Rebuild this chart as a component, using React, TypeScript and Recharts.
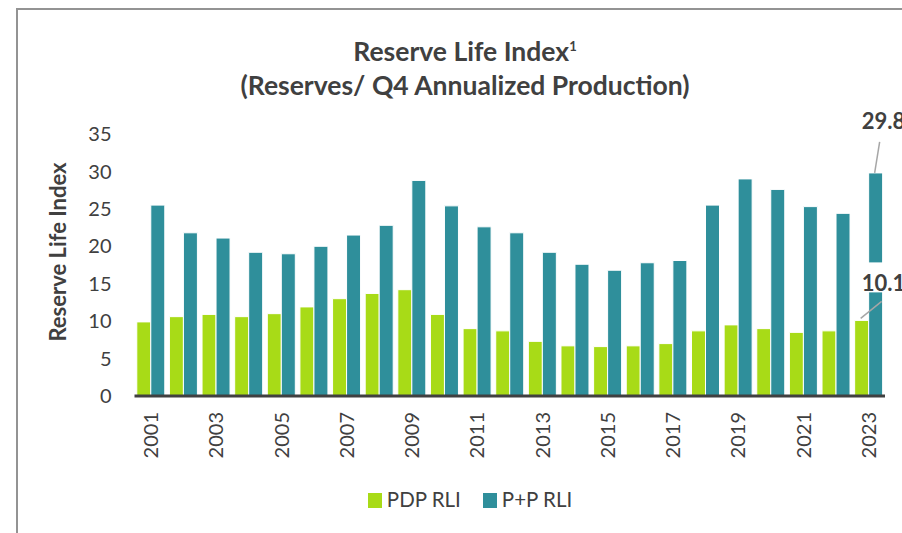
import React from 'react';
import { BarChart, Bar, XAxis, YAxis, LabelList } from 'recharts';

/* Reserve Life Index chart - PDP vs P+P, 2001-2023 */

const YEARS = [
  '2001', '2002', '2003', '2004', '2005', '2006', '2007', '2008', '2009', '2010', '2011', '2012',
  '2013', '2014', '2015', '2016', '2017', '2018', '2019', '2020', '2021', '2022', '2023',
];
const PDP_RLI = [
  9.9, 10.6, 10.9, 10.6, 11.0, 11.9, 13.0, 13.7, 14.2, 10.9, 9.0, 8.7,
  7.3, 6.7, 6.6, 6.7, 7.0, 8.7, 9.5, 9.0, 8.5, 8.7, 10.1,
];
const PP_RLI = [
  25.5, 21.8, 21.1, 19.2, 19.0, 20.0, 21.5, 22.8, 28.8, 25.4, 22.6, 21.8,
  19.2, 17.6, 16.8, 17.8, 18.1, 25.5, 29.0, 27.6, 25.3, 24.4, 29.8,
];
const Y_TICKS = [0, 5, 10, 15, 20, 25, 30, 35];
const SERIES_NAMES = ['PDP RLI', 'P+P RLI'];

const PDP_COLOR = '#a8db17';
const PP_COLOR = '#2f8f9b';
const TEXT = '#404040';
const LAST = YEARS.length - 1;

const data = YEARS.map((year, i) => ({ year, pdp: PDP_RLI[i], pp: PP_RLI[i] }));

const YearTick = ({ x, y, payload }: any) => (
  <text
    x={x}
    y={y}
    transform={`rotate(-90 ${x} ${y})`}
    textAnchor="end"
    dy="0.36em"
    fill={TEXT}
    fontSize={20}
  >
    {payload.value}
  </text>
);

// callouts for the latest year, drawn after the P+P bars so the white box sits on top
const LatestLabels = (props: any) => {
  const vb = props.viewBox || props;
  const index = props.index;
  if (index !== LAST) return null;
  const x = Number(vb.x);
  const y = Number(vb.y);
  const h = Number(vb.height);
  const bottom = y + h;
  const pdpY = bottom - (h * PDP_RLI[LAST]) / PP_RLI[LAST];
  return (
    <g>
      <line x1={x + 11} y1={y - 31} x2={x + 6} y2={y} stroke="#a6a6a6" strokeWidth={1.5} />
      <text x={x - 7} y={y - 44} fill={TEXT} fontSize={22} fontWeight={700}>
        {PP_RLI[LAST].toFixed(1)}
      </text>
      <rect x={x - 8} y={pdpY - 58} width={60} height={30} fill="#ffffff" />
      <text x={x - 7} y={pdpY - 29} fill={TEXT} fontSize={22} fontWeight={700}>
        {PDP_RLI[LAST].toFixed(1)}
      </text>
      <line x1={x + 13} y1={pdpY - 19} x2={x - 8} y2={pdpY - 2} stroke="#a6a6a6" strokeWidth={1.5} />
    </g>
  );
};

const App: React.FC = () => {
  return (
    <div style={styles.page}>
      <div style={styles.frame} />

      <div style={styles.title}>
        <div>
          Reserve Life Index<span style={styles.sup}>1</span>
        </div>
        <div>(Reserves/ Q4 Annualized Production)</div>
      </div>

      <div style={styles.yLabel}>Reserve Life Index</div>

      <div style={styles.chart}>
        <BarChart
          width={902}
          height={533}
          data={data}
          margin={{ top: 134, right: 17, bottom: 77, left: 74.5 }}
          barCategoryGap="7%"
          barGap={0}
        >
          <YAxis
            width={60}
            domain={[0, 35]}
            ticks={Y_TICKS}
            axisLine={false}
            tickLine={false}
            tickSize={0}
            tickMargin={23}
            tick={{ fill: TEXT, fontSize: 20 }}
          />
          <Bar dataKey="pdp" name={SERIES_NAMES[0]} fill={PDP_COLOR} stroke="#ffffff" strokeWidth={1} isAnimationActive={false} />
          <Bar dataKey="pp" name={SERIES_NAMES[1]} fill={PP_COLOR} stroke="#ffffff" strokeWidth={1} isAnimationActive={false}>
            <LabelList dataKey="pp" content={<LatestLabels />} />
          </Bar>
          <XAxis
            dataKey="year"
            height={60}
            interval={1}
            tickLine={false}
            tickSize={0}
            tickMargin={16}
            axisLine={{ stroke: TEXT, strokeWidth: 3 }}
            tick={<YearTick />}
          />
        </BarChart>
      </div>

      <div style={styles.legend}>
        <div style={styles.legendItem}>
          <span style={{ ...styles.swatch, backgroundColor: PDP_COLOR }} />
          {SERIES_NAMES[0]}
        </div>
        <div style={styles.legendItem}>
          <span style={{ ...styles.swatch, backgroundColor: PP_COLOR }} />
          {SERIES_NAMES[1]}
        </div>
      </div>
    </div>
  );
};

const styles: Record<string, React.CSSProperties> = {
  page: {
    position: 'absolute',
    left: 0,
    top: 0,
    width: 902,
    height: 533,
    overflow: 'hidden',
    background: '#ffffff',
    fontFamily: 'Lato, "Noto Sans", sans-serif',
    color: TEXT,
  },
  frame: {
    position: 'absolute',
    left: 16,
    top: 8,
    width: 920,
    height: 560,
    borderLeft: '2px solid #939393',
    borderTop: '2px solid #939393',
  },
  title: {
    position: 'absolute',
    left: 0,
    top: 34,
    width: 930,
    textAlign: 'center',
    fontSize: 26.5,
    lineHeight: '34px',
    fontWeight: 700,
  },
  sup: {
    fontSize: 13,
    lineHeight: 0,
    verticalAlign: 'super',
  },
  yLabel: {
    position: 'absolute',
    left: 57.5,
    top: 252,
    transform: 'translate(-50%, -50%) rotate(-90deg)',
    whiteSpace: 'nowrap',
    fontSize: 22,
    lineHeight: '22px',
    fontWeight: 700,
  },
  chart: {
    position: 'absolute',
    left: 0,
    top: 0,
  },
  legend: {
    position: 'absolute',
    left: 0,
    top: 489,
    width: 940,
    display: 'flex',
    justifyContent: 'center',
    gap: 22,
    fontSize: 20.5,
    lineHeight: '20px',
  },
  legendItem: {
    display: 'flex',
    alignItems: 'flex-start',
  },
  swatch: {
    display: 'inline-block',
    width: 14,
    height: 15,
    marginTop: 4,
    marginRight: 5,
  },
};

export default App;
